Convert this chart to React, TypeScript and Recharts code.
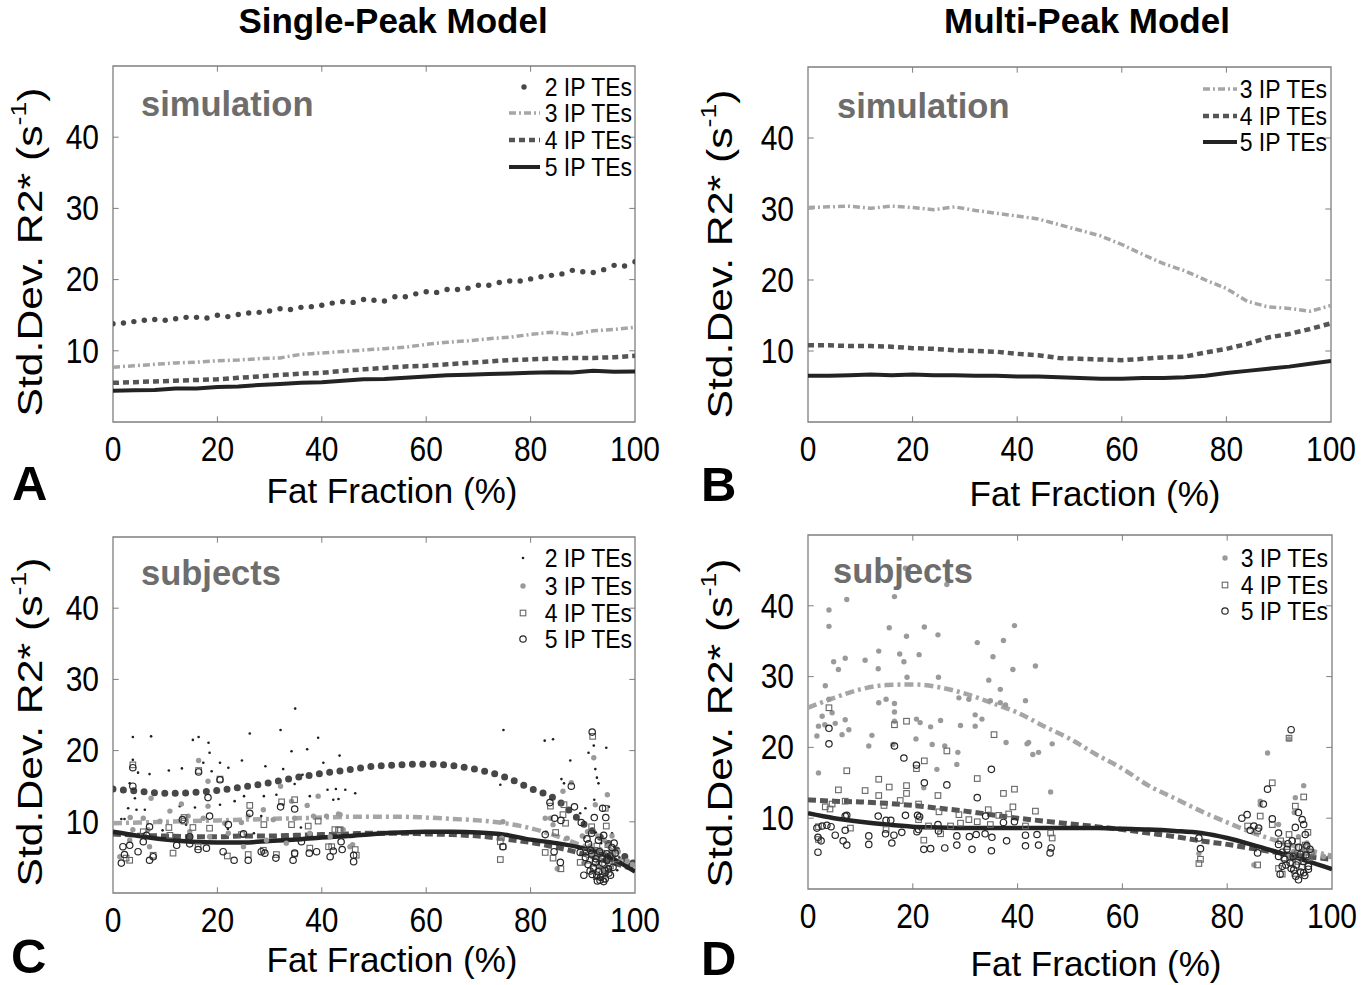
import React from 'react';
import { ComposedChart, Line, Scatter, XAxis, YAxis, ReferenceArea, ReferenceLine } from 'recharts';

const FONT = "'Liberation Sans', Arial, Helvetica, sans-serif";

// ---------- tick labels ----------
const X_TICKS = [0, 20, 40, 60, 80, 100];
const Y_TICKS = [10, 20, 30, 40];
const X_INNER = [20, 40, 60, 80];

// ---------- fat fraction grids ----------
const FF_2 = [0, 2, 4, 6, 8, 10, 12, 14, 16, 18, 20, 22, 24, 26, 28, 30, 32, 34, 36, 38, 40, 42, 44, 46, 48, 50, 52, 54, 56, 58, 60, 62, 64, 66, 68, 70, 72, 74, 76, 78, 80, 82, 84, 86, 88, 90, 92, 94, 96, 98, 100];
const FF_4 = [0, 4, 8, 12, 16, 20, 24, 28, 32, 36, 40, 44, 48, 52, 56, 60, 64, 68, 72, 76, 80, 84, 88, 92, 96, 100];
const FF_5 = [0, 5, 10, 15, 20, 25, 30, 35, 40, 45, 50, 55, 60, 65, 70, 75, 80, 85, 90, 95, 100];

// ---------- A: simulation, single-peak ----------
const SIM_SP_2 = [13.8, 13.9, 14.1, 14.3, 14.4, 14.3, 14.5, 14.7, 14.7, 14.6, 15.0, 14.8, 15.1, 15.3, 15.4, 15.6, 15.9, 15.8, 16.1, 16.2, 16.4, 16.7, 16.9, 16.8, 17.2, 17.1, 17.0, 17.6, 17.6, 18.0, 18.3, 18.2, 18.6, 18.6, 18.8, 19.2, 19.2, 19.6, 19.8, 19.8, 20.1, 20.4, 20.6, 20.8, 21.3, 21.1, 21.0, 21.4, 22.0, 21.9, 22.5];
const SIM_SP_3 = [7.7, 7.9, 8.1, 8.3, 8.4, 8.6, 8.7, 8.9, 9.0, 9.5, 9.7, 9.9, 10.1, 10.3, 10.5, 10.9, 11.2, 11.4, 11.7, 11.9, 12.3, 12.6, 12.3, 12.8, 13.0, 13.3];
const SIM_SP_4 = [5.5, 5.6, 5.7, 5.8, 5.9, 6.0, 6.2, 6.4, 6.6, 6.8, 6.9, 7.2, 7.4, 7.6, 7.8, 7.9, 8.1, 8.3, 8.5, 8.7, 8.8, 8.9, 9.0, 9.0, 9.1, 9.3];
const SIM_SP_5 = [4.4, 4.45, 4.5, 4.7, 4.7, 4.9, 5.0, 5.2, 5.35, 5.5, 5.6, 5.8, 6.0, 6.05, 6.2, 6.4, 6.55, 6.65, 6.75, 6.8, 6.9, 7.0, 6.95, 7.2, 7.05, 7.1];

// ---------- B: simulation, multi-peak ----------
const SIM_MP_3 = [30.2, 30.3, 30.4, 30.1, 30.4, 30.2, 29.9, 30.3, 29.8, 29.4, 29.0, 28.6, 27.8, 27.0, 26.2, 25.0, 23.6, 22.3, 21.3, 20.0, 18.8, 17.0, 16.2, 16.0, 15.6, 16.4];
const SIM_MP_4 = [10.8, 10.8, 10.7, 10.7, 10.6, 10.4, 10.3, 10.1, 10.0, 9.9, 9.6, 9.4, 9.0, 8.9, 8.8, 8.7, 8.9, 9.1, 9.2, 9.8, 10.3, 11.0, 11.9, 12.4, 13.1, 13.9];
const SIM_MP_5 = [6.5, 6.5, 6.6, 6.7, 6.6, 6.7, 6.6, 6.6, 6.5, 6.5, 6.4, 6.4, 6.3, 6.2, 6.1, 6.1, 6.2, 6.2, 6.3, 6.5, 6.9, 7.2, 7.5, 7.8, 8.2, 8.6];

// ---------- C: subjects fits, single-peak ----------
const FIT_SP_2 = [14.6, 14.3, 14.0, 14.1, 14.4, 14.9, 15.5, 16.2, 16.8, 17.3, 17.8, 18.0, 18.1, 17.9, 17.3, 16.3, 14.7, 13.1, 9.8, 6.9, 4.0];
const FIT_SP_3 = [9.8, 9.9, 10.0, 10.1, 10.2, 10.3, 10.4, 10.5, 10.6, 10.7, 10.7, 10.7, 10.6, 10.4, 10.2, 9.8, 9.1, 8.0, 6.6, 5.2, 3.9];
const FIT_SP_4 = [8.3, 8.1, 8.0, 7.9, 7.9, 8.0, 8.0, 8.1, 8.2, 8.3, 8.4, 8.4, 8.3, 8.2, 8.0, 7.6, 7.1, 6.4, 5.5, 4.4, 3.3];
const FIT_SP_5 = [8.6, 8.0, 7.5, 7.2, 7.1, 7.1, 7.3, 7.5, 7.8, 8.0, 8.3, 8.5, 8.6, 8.6, 8.5, 8.2, 7.5, 7.0, 6.3, 5.1, 3.0];

// ---------- D: subjects fits, multi-peak ----------
const FIT_MP_3 = [25.6, 27.0, 28.2, 28.8, 28.9, 28.5, 27.6, 26.3, 24.9, 23.0, 21.2, 19.0, 17.0, 14.6, 12.8, 11.0, 9.4, 7.9, 6.7, 5.6, 4.7];
const FIT_MP_4 = [12.6, 12.4, 12.3, 12.1, 11.8, 11.4, 11.0, 10.5, 10.0, 9.6, 9.2, 8.8, 8.4, 7.9, 7.4, 6.8, 6.3, 5.7, 5.1, 4.6, 4.2];
const FIT_MP_5 = [10.7, 10.0, 9.5, 9.1, 8.8, 8.7, 8.6, 8.6, 8.6, 8.6, 8.6, 8.6, 8.5, 8.4, 8.2, 7.9, 7.2, 6.2, 5.1, 4.0, 2.8];

// ---------- C: subject points, single-peak [FF, SD] ----------
const PTS_SP_2 = [[1.6,10.4],[2.2,10.4],[2.9,11.9],[3.2,15.4],[3.8,18.7],[3.8,21.9],[4.2,13.3],[4.5,11.7],[4.8,16.9],[6.1,11.7],[7.0,16.7],[7.3,22.0],[9.5,8.8],[10.7,17.2],[12.8,12.2],[13.2,17.5],[14.0,9.6],[15.3,21.5],[15.7,12.0],[16.4,21.9],[17.3,18.3],[18.3,21.1],[18.5,19.7],[18.9,17.1],[20.5,18.3],[20.5,12.4],[22.0,9.0],[22.1,17.6],[23.3,12.9],[24.7,18.6],[25.1,13.6],[26.2,22.4],[27.0,8.4],[28.4,10.8],[28.9,13.6],[29.2,17.8],[31.3,13.8],[32.1,22.9],[32.6,17.4],[32.6,12.4],[34.2,19.9],[34.8,15.3],[34.9,25.9],[36.0,9.2],[36.3,16.6],[37.2,20.2],[37.7,13.6],[39.3,21.8],[40.3,18.3],[41.1,14.5],[42.2,13.1],[42.7,14.6],[43.2,13.2],[43.4,19.3],[44.0,8.7],[44.5,14.5],[46.4,14.0],[74.2,15.2],[74.8,22.9],[82.7,21.4],[84.3,21.6],[85.9,16.0],[86.4,15.4],[87.6,18.6],[89.5,11.2],[90.5,11.9],[91.1,19.7],[92.1,20.7],[92.2,13.1],[92.4,17.4],[92.7,16.2],[93.0,15.4],[94.5,20.4],[95.0,12.1],[95.6,8.4],[90.3,7.8],[91.0,6.0],[91.5,3.0],[92.0,5.0],[92.5,8.5],[93.0,4.0],[93.5,7.0],[94.0,3.5],[94.5,5.5],[95.5,4.5],[96.0,6.5],[96.6,3.2],[97.0,5.0],[98.0,4.5],[99.0,4.0]];
const PTS_SP_3 = [[1.3,5.1],[3.2,7.4],[3.3,10.6],[3.8,8.9],[5.8,10.5],[6.7,8.9],[7.0,6.5],[7.3,13.3],[9.0,10.1],[10.9,11.5],[13.1,12.5],[14.4,10.8],[14.7,8.6],[16.4,18.6],[17.3,10.5],[18.2,15.7],[18.2,12.2],[18.5,7.9],[21.4,9.8],[22.1,8.4],[24.6,9.9],[25.0,6.5],[25.9,10.8],[28.8,11.7],[29.4,7.4],[30.7,10.3],[32.1,15.0],[33.2,7.0],[34.2,12.9],[34.8,10.5],[37.2,12.3],[37.7,8.4],[38.4,10.8],[39.3,13.6],[40.9,10.8],[41.6,7.9],[43.2,11.1],[43.5,11.0],[44.1,8.9],[45.4,6.5],[45.9,6.8],[74.5,7.7],[74.7,10.0],[82.8,10.5],[83.8,10.5],[84.3,9.6],[85.1,3.4],[86.2,14.3],[87.0,7.7],[87.8,15.5],[89.9,8.0],[92.1,19.0],[92.4,12.4],[94.7,13.8],[95.6,8.0],[91.4,6.6],[92.7,5.2],[93.3,6.1],[94.9,6.6],[95.9,5.4],[90.2,4.2],[91.7,5.4],[93.3,3.6],[94.1,7.4],[95.4,6.0],[92.9,8.0],[96.8,5.8],[90.9,8.6],[98.5,4.5],[99.5,4.0]];
const PTS_SP_4 = [[2.5,4.9],[3.2,4.6],[3.8,18.0],[5.8,8.6],[7.7,5.3],[10.7,9.2],[10.9,8.1],[11.5,5.6],[13.6,10.6],[13.6,10.1],[15.3,9.2],[16.3,6.5],[16.4,17.2],[18.5,9.1],[20.5,16.0],[21.9,5.2],[24.6,8.2],[25.9,5.4],[26.2,12.3],[28.8,6.0],[28.9,9.6],[31.3,5.4],[32.3,12.8],[34.2,9.6],[34.8,13.1],[34.8,5.5],[37.4,9.4],[37.7,6.3],[39.3,10.1],[41.3,6.5],[41.9,6.5],[42.5,8.9],[43.2,8.8],[43.5,8.9],[46.4,6.1],[46.6,5.3],[74.2,7.2],[74.7,6.5],[74.2,4.7],[82.8,5.7],[83.8,12.2],[84.3,4.9],[84.8,8.5],[85.8,3.4],[86.2,11.0],[86.4,12.4],[86.7,9.8],[89.5,4.3],[91.7,9.3],[91.9,22.0],[94.3,11.9],[94.5,9.4],[92.7,6.6],[94.0,5.2],[92.1,3.4],[93.7,2.7],[95.3,3.8],[91.3,4.6],[92.3,6.0],[93.1,4.0],[93.6,5.6],[94.4,3.0],[95.1,4.1],[92.6,2.3],[94.8,6.8],[90.6,5.8],[93.9,1.9],[96.4,4.8]];
const PTS_SP_5 = [[1.6,4.2],[1.9,6.5],[2.2,5.4],[3.2,6.7],[3.8,17.6],[3.8,15.0],[4.8,5.8],[5.8,7.2],[6.4,8.1],[7.0,9.3],[7.0,4.6],[7.7,5.1],[12.2,6.7],[13.3,10.3],[14.7,6.9],[14.7,7.9],[16.3,6.1],[16.4,17.0],[17.9,6.3],[18.2,13.4],[18.5,10.8],[20.5,15.9],[21.1,5.8],[22.1,9.6],[23.2,4.6],[25.0,8.3],[25.9,4.6],[26.2,11.2],[28.4,5.8],[29.1,5.6],[31.2,4.9],[32.1,12.1],[34.5,4.6],[34.8,5.6],[34.8,11.8],[36.1,7.2],[37.6,5.6],[39.0,5.8],[41.6,5.1],[42.2,5.9],[43.7,7.2],[43.9,6.1],[46.1,5.3],[46.1,4.4],[74.7,6.5],[82.8,8.2],[83.7,12.7],[84.5,5.8],[84.6,10.5],[85.7,4.3],[85.8,10.2],[87.8,15.0],[88.4,12.1],[89.5,5.7],[89.7,9.9],[90.2,2.5],[91.1,6.9],[91.4,3.1],[91.7,5.5],[91.7,8.4],[91.8,22.6],[92.2,10.6],[92.4,4.3],[92.7,2.5],[93.0,7.4],[93.3,1.8],[93.7,4.8],[93.8,11.9],[94.0,8.1],[94.3,2.0],[94.4,10.6],[94.6,5.5],[94.9,3.4],[95.3,2.5],[95.6,6.4],[90.5,5.0],[91.0,4.0],[91.5,6.0],[92.0,3.6],[92.5,4.8],[93.0,3.0],[93.2,5.8],[93.8,4.2],[94.2,3.2],[94.6,4.6],[95.0,2.8],[95.2,5.2],[93.4,2.2],[92.8,1.7],[94.0,1.6],[91.8,2.6],[95.8,3.6],[96.2,5.6],[90.8,7.6],[96.0,7.0]];

// ---------- D: subject points, multi-peak [FF, SD] ----------
const PTS_MP_3 = [[1.7,21.6],[2.0,23.0],[2.0,16.4],[2.7,24.4],[3.2,23.2],[3.3,28.7],[4.0,39.4],[4.0,37.1],[4.0,26.8],[4.6,24.9],[4.9,32.1],[5.2,23.4],[5.8,31.0],[6.5,21.8],[7.1,32.6],[7.1,23.9],[7.4,40.9],[7.8,22.5],[10.9,32.3],[11.6,20.2],[12.2,21.7],[13.4,31.1],[13.5,33.6],[13.5,26.3],[14.9,26.8],[15.5,36.9],[16.2,20.4],[16.5,41.3],[16.5,26.2],[16.5,25.0],[16.5,23.7],[17.5,33.2],[18.3,32.1],[18.6,45.3],[18.8,35.7],[18.9,29.9],[20.6,21.2],[20.7,24.0],[21.2,33.1],[21.4,23.5],[22.1,14.3],[22.2,37.0],[23.4,22.9],[23.7,20.4],[24.6,16.9],[24.8,35.9],[24.9,29.9],[25.3,23.8],[26.1,20.2],[26.5,43.0],[28.4,17.6],[28.6,19.3],[28.8,27.0],[29.1,23.1],[30.7,26.8],[31.9,24.6],[31.9,23.0],[32.3,34.8],[33.2,24.0],[34.5,29.5],[34.8,26.6],[35.3,32.8],[36.7,28.2],[36.7,26.3],[37.3,35.1],[37.7,26.0],[37.8,20.7],[39.1,31.0],[39.4,37.2],[41.5,26.6],[41.8,20.5],[42.1,20.7],[42.9,19.0],[43.4,31.5],[44.0,19.3],[46.3,13.7],[46.6,20.5],[74.6,5.0],[85.1,3.4],[86.3,12.4],[86.3,11.9],[87.7,19.2],[89.8,9.1],[91.8,21.2],[92.8,10.8],[93.0,12.9],[94.6,14.6],[90.8,6.5],[91.7,4.6],[92.7,5.3],[93.6,7.4],[95.0,5.1],[95.2,6.5],[96.5,5.1],[98.4,4.6],[99.7,4.6]];
const PTS_MP_4 = [[2.0,8.8],[2.0,7.0],[3.3,11.6],[4.0,25.6],[4.2,11.3],[4.6,12.0],[5.8,14.0],[7.1,12.4],[7.4,16.7],[8.1,8.6],[10.9,13.9],[13.5,15.5],[13.5,13.2],[14.5,11.8],[14.9,8.4],[15.5,14.4],[16.5,23.2],[17.6,12.5],[18.8,23.7],[18.8,14.6],[18.8,13.5],[20.7,17.0],[21.1,12.0],[21.1,9.8],[22.1,6.9],[22.2,18.1],[23.0,8.9],[24.8,13.2],[25.0,10.9],[25.3,7.8],[26.5,19.5],[27.2,8.9],[28.8,10.5],[29.1,9.3],[30.7,9.8],[32.3,15.6],[32.3,9.5],[34.4,11.2],[34.8,9.1],[35.5,21.8],[36.4,10.4],[37.3,13.5],[38.3,10.6],[39.1,11.6],[39.4,14.1],[41.5,8.9],[43.4,11.0],[46.3,7.9],[46.6,7.2],[74.6,3.6],[74.9,4.2],[83.9,8.9],[85.8,8.2],[85.8,3.4],[86.3,10.3],[88.6,15.0],[88.6,9.1],[89.8,2.9],[90.5,2.1],[91.8,7.7],[91.8,21.3],[93.0,11.7],[93.4,6.7],[93.6,3.9],[94.3,5.9],[94.6,13.0],[95.2,4.8],[92.7,4.8],[90.8,4.4],[91.5,6.0],[92.4,3.6],[93.4,5.0],[94.2,3.1],[95.6,4.4],[92.9,2.2],[94.9,6.2],[95.4,8.0],[90.2,6.8],[96.0,5.2]];
const PTS_MP_5 = [[1.7,8.6],[1.9,7.3],[1.9,5.2],[2.5,6.8],[2.7,8.9],[3.6,9.0],[4.0,22.7],[4.0,20.5],[4.4,8.8],[5.2,7.6],[6.7,6.8],[7.1,10.3],[7.1,8.3],[7.4,10.4],[7.4,6.2],[11.6,7.5],[11.6,6.3],[13.4,10.3],[14.8,7.8],[14.9,9.7],[15.8,9.7],[16.0,6.5],[16.4,7.6],[16.5,20.2],[17.9,8.0],[18.3,18.5],[18.6,10.4],[20.7,17.5],[20.8,8.1],[20.9,10.4],[21.1,8.4],[21.3,10.2],[22.1,5.6],[22.2,15.0],[23.4,5.7],[24.8,9.1],[24.9,8.2],[26.1,5.8],[26.5,14.7],[28.4,7.5],[28.4,6.2],[30.8,7.4],[31.3,5.6],[32.1,7.7],[32.3,12.9],[33.8,7.8],[33.9,10.3],[35.0,16.9],[35.0,5.4],[35.1,7.3],[37.3,9.4],[37.9,6.8],[39.4,9.5],[41.5,7.6],[41.5,6.1],[43.7,7.7],[44.0,6.2],[46.2,5.1],[46.4,5.8],[74.6,7.2],[74.9,5.7],[82.8,10.0],[83.8,10.5],[84.4,8.3],[85.1,8.9],[85.8,5.1],[86.0,8.6],[86.9,12.0],[87.7,14.1],[88.6,9.9],[89.8,7.9],[89.8,6.3],[89.8,4.6],[90.1,2.1],[90.5,3.2],[91.4,5.6],[92.0,3.7],[92.2,22.5],[92.7,2.7],[93.0,8.7],[93.6,10.8],[93.6,1.3],[94.0,4.9],[94.3,9.8],[94.6,9.1],[94.6,2.3],[94.9,7.7],[95.2,6.1],[95.5,3.2],[90.5,5.2],[91.0,4.2],[91.6,6.4],[92.2,2.9],[92.6,4.6],[93.2,3.4],[93.6,5.9],[94.0,2.4],[94.5,3.9],[95.0,4.8],[95.5,2.8],[93.1,1.8],[92.4,6.8],[95.8,5.6],[91.2,3.4],[94.8,1.9]];

// ---------- helpers ----------
const zip = (xs: number[], ys: number[]) => xs.map((x, i) => ({ x, y: ys[i] }));
const pairs = (ps: number[][]) => ps.map(([x, y]) => ({ x, y }));

const FRAME = '#7f7f7f';
const C2 = '#474747';
const C3 = '#a6a6a6';
const C4 = '#555555';
const C5 = '#232323';
const LABEL_GRAY = '#6d6d6d';

const ML = 110, MT = 12, MR = 45, MB = 60;
const TICK_LEN_X = 0.8;  // in y-units (inner tick length)
const TICK_LEN_Y = 1.1;  // in x-units (inner tick length)

const XTick = (p: any) => (
  <text transform={`translate(${p.x},${p.y + 27.5}) scale(1,1.15)`} textAnchor="middle" dominantBaseline="central"
    fontSize={30} fontFamily={FONT} fill="#000">{p.payload.value}</text>
);
const YTick = (p: any) => (
  <text transform={`translate(${p.x - 14},${p.y}) scale(1,1.15)`} textAnchor="end" dominantBaseline="central"
    fontSize={30} fontFamily={FONT} fill="#000">{p.payload.value}</text>
);

const frameParts = () => [
  <XAxis key="xa" dataKey="x" type="number" domain={[0, 100]} ticks={X_TICKS} interval={0} allowDataOverflow
    height={MB} tickSize={0} tickMargin={0} tickLine={false} axisLine={false} tick={XTick} />,
  <YAxis key="ya" dataKey="y" type="number" domain={[0, 50]} ticks={Y_TICKS} interval={0} allowDataOverflow
    width={ML} tickSize={0} tickMargin={0} tickLine={false} axisLine={false} tick={YTick} />,
  ...X_INNER.map((v) => (
    <ReferenceLine key={`xb${v}`} segment={[{ x: v, y: 0 }, { x: v, y: TICK_LEN_X }]} stroke={FRAME} strokeWidth={1} ifOverflow="visible" />
  )),
  ...X_INNER.map((v) => (
    <ReferenceLine key={`xt${v}`} segment={[{ x: v, y: 50 }, { x: v, y: 50 - TICK_LEN_X }]} stroke={FRAME} strokeWidth={1} ifOverflow="visible" />
  )),
  ...Y_TICKS.map((v) => (
    <ReferenceLine key={`yl${v}`} segment={[{ x: 0, y: v }, { x: TICK_LEN_Y, y: v }]} stroke={FRAME} strokeWidth={1} ifOverflow="visible" />
  )),
  ...Y_TICKS.map((v) => (
    <ReferenceLine key={`yr${v}`} segment={[{ x: 100, y: v }, { x: 100 - TICK_LEN_Y, y: v }]} stroke={FRAME} strokeWidth={1} ifOverflow="visible" />
  )),
  <ReferenceArea key="fr" x1={0} x2={100} y1={0} y2={50} fill="none" fillOpacity={0} stroke={FRAME} strokeWidth={1.3}
    ifOverflow="visible" />,
];

// marker shapes
const dotSim = (p: any) => <circle cx={p.cx} cy={p.cy} r={2.7} fill={C2} />;
const mk2 = (p: any) => <circle cx={p.cx} cy={p.cy} r={1.3} fill="#1e1e1e" />;
const mk3 = (p: any) => <circle cx={p.cx} cy={p.cy} r={2.7} fill="#9a9a9a" />;
const mk4 = (p: any) => <rect x={p.cx - 2.8} y={p.cy - 2.8} width={5.6} height={5.6} fill="none" stroke="#666" strokeWidth={1.1} />;
const mk5 = (p: any) => <circle cx={p.cx} cy={p.cy} r={3.2} fill="none" stroke="#262626" strokeWidth={1.2} />;

type Geo = { left: number; top: number; w: number; h: number };
const GEO_A: Geo = { left: 113, top: 66, w: 522, h: 356 };
const GEO_B: Geo = { left: 808, top: 67, w: 523, h: 355 };
const GEO_C: Geo = { left: 113, top: 537, w: 522, h: 356 };
const GEO_D: Geo = { left: 808, top: 535, w: 524, h: 354 };

function Panel({ geo, children }: { geo: Geo; children: React.ReactNode }) {
  return (
    <div style={{ position: 'absolute', left: geo.left - ML, top: geo.top - MT }}>
      <ComposedChart width={ML + geo.w + MR} height={MT + geo.h + MB} margin={{ top: MT, right: MR, bottom: 0, left: 0 }}>
        {children}
      </ComposedChart>
    </div>
  );
}

// ---------- overlay text helpers ----------
const T = ({ x, y, size, children, weight = 'normal', fill = '#000', anchor = 'start', sx = 1, sy = 1, rot = 0, base = 'alphabetic' }: any) => (
  <text transform={`translate(${x},${y}) rotate(${rot}) scale(${sx},${sy})`} fontSize={size} fontWeight={weight} fill={fill}
    textAnchor={anchor} dominantBaseline={base} fontFamily={FONT}>{children}</text>
);

const YLabel = ({ x, y }: { x: number; y: number }) => (
  <text transform={`translate(${x},${y}) rotate(-90) scale(1.22,1)`} fontSize={35} fill="#000" textAnchor="middle"
    dominantBaseline="central" fontFamily={FONT}>
    Std.Dev. R2* (s<tspan dy={-12} fontSize={22}>-1</tspan><tspan dy={12}>)</tspan>
  </text>
);

const LegLine = ({ x1, x2, y, kind }: any) => {
  if (kind === 3) return <line x1={x1} x2={x2} y1={y} y2={y} stroke={C3} strokeWidth={3.5} strokeDasharray="7 3 2 3" />;
  if (kind === 4) return <line x1={x1} x2={x2} y1={y} y2={y} stroke={C4} strokeWidth={4.5} strokeDasharray="6 4" />;
  return <line x1={x1} x2={x2} y1={y} y2={y} stroke={C5} strokeWidth={4} />;
};

const LegText = ({ x, y, children }: any) => (
  <T x={x} y={y} size={23} anchor="end" base="central" sy={1.15}>{children}</T>
);

export default function App() {
  return (
    <div style={{ position: 'absolute', left: 0, top: 0, width: 1370, height: 985, background: '#fff', overflow: 'hidden' }}>
      {/* A */}
      <Panel geo={GEO_A}>
        {frameParts()}
        <Line data={zip(FF_4, SIM_SP_3)} dataKey="y" type="linear" stroke={C3} strokeWidth={3.5} strokeDasharray="7 3 2 3" dot={false} isAnimationActive={false} />
        <Line data={zip(FF_4, SIM_SP_4)} dataKey="y" type="linear" stroke={C4} strokeWidth={4.5} strokeDasharray="6 4" dot={false} isAnimationActive={false} />
        <Line data={zip(FF_4, SIM_SP_5)} dataKey="y" type="linear" stroke={C5} strokeWidth={4} dot={false} isAnimationActive={false} />
        <Scatter data={zip(FF_2, SIM_SP_2)} dataKey="y" shape={dotSim} isAnimationActive={false} />
      </Panel>
      {/* B */}
      <Panel geo={GEO_B}>
        {frameParts()}
        <Line data={zip(FF_4, SIM_MP_3)} dataKey="y" type="linear" stroke={C3} strokeWidth={3.5} strokeDasharray="7 3 2 3" dot={false} isAnimationActive={false} />
        <Line data={zip(FF_4, SIM_MP_4)} dataKey="y" type="linear" stroke={C4} strokeWidth={4.5} strokeDasharray="6 4" dot={false} isAnimationActive={false} />
        <Line data={zip(FF_4, SIM_MP_5)} dataKey="y" type="linear" stroke={C5} strokeWidth={4} dot={false} isAnimationActive={false} />
      </Panel>
      {/* C */}
      <Panel geo={GEO_C}>
        {frameParts()}
        <Scatter data={pairs(PTS_SP_2)} dataKey="y" shape={mk2} isAnimationActive={false} />
        <Scatter data={pairs(PTS_SP_3)} dataKey="y" shape={mk3} isAnimationActive={false} />
        <Scatter data={pairs(PTS_SP_4)} dataKey="y" shape={mk4} isAnimationActive={false} />
        <Scatter data={pairs(PTS_SP_5)} dataKey="y" shape={mk5} isAnimationActive={false} />
        <Line data={zip(FF_5, FIT_SP_3)} dataKey="y" type="monotone" stroke={C3} strokeWidth={4.5} strokeDasharray="9 4 3 4" dot={false} isAnimationActive={false} />
        <Line data={zip(FF_5, FIT_SP_4)} dataKey="y" type="monotone" stroke={C4} strokeWidth={5} strokeDasharray="8 4" dot={false} isAnimationActive={false} />
        <Line data={zip(FF_5, FIT_SP_5)} dataKey="y" type="monotone" stroke={C5} strokeWidth={4.5} dot={false} isAnimationActive={false} />
        <Line data={zip(FF_5, FIT_SP_2)} dataKey="y" type="monotone" stroke={C2} strokeWidth={7} strokeDasharray="0 10.4" strokeLinecap="round" dot={false} isAnimationActive={false} />
      </Panel>
      {/* D */}
      <Panel geo={GEO_D}>
        {frameParts()}
        <Scatter data={pairs(PTS_MP_3)} dataKey="y" shape={mk3} isAnimationActive={false} />
        <Scatter data={pairs(PTS_MP_4)} dataKey="y" shape={mk4} isAnimationActive={false} />
        <Scatter data={pairs(PTS_MP_5)} dataKey="y" shape={mk5} isAnimationActive={false} />
        <Line data={zip(FF_5, FIT_MP_3)} dataKey="y" type="monotone" stroke={C3} strokeWidth={4.5} strokeDasharray="9 4 3 4" dot={false} isAnimationActive={false} />
        <Line data={zip(FF_5, FIT_MP_4)} dataKey="y" type="monotone" stroke={C4} strokeWidth={5} strokeDasharray="8 4" dot={false} isAnimationActive={false} />
        <Line data={zip(FF_5, FIT_MP_5)} dataKey="y" type="monotone" stroke={C5} strokeWidth={4.5} dot={false} isAnimationActive={false} />
      </Panel>

      {/* overlay texts */}
      <svg width={1370} height={985} style={{ position: 'absolute', left: 0, top: 0, pointerEvents: 'none' }}>
        <T x={393} y={33} size={35} weight="bold" anchor="middle">Single-Peak Model</T>
        <T x={1087} y={33} size={35} weight="bold" anchor="middle">Multi-Peak Model</T>

        <T x={12} y={500} size={49} weight="bold">A</T>
        <T x={701} y={501} size={49} weight="bold">B</T>
        <T x={11} y={973} size={49} weight="bold">C</T>
        <T x={701} y={975} size={49} weight="bold">D</T>

        <YLabel x={30} y={252} />
        <YLabel x={720} y={254} />
        <YLabel x={30} y={722} />
        <YLabel x={720} y={723} />

        <T x={392} y={503} size={35} anchor="middle">Fat Fraction (%)</T>
        <T x={1095} y={506} size={35} anchor="middle">Fat Fraction (%)</T>
        <T x={392} y={972} size={35} anchor="middle">Fat Fraction (%)</T>
        <T x={1096} y={976} size={35} anchor="middle">Fat Fraction (%)</T>

        <T x={141} y={116} size={34.5} weight="bold" fill={LABEL_GRAY}>simulation</T>
        <T x={837} y={118} size={34.5} weight="bold" fill={LABEL_GRAY}>simulation</T>
        <T x={141} y={585} size={34.5} weight="bold" fill={LABEL_GRAY}>subjects</T>
        <T x={833} y={583} size={34.5} weight="bold" fill={LABEL_GRAY}>subjects</T>

        {/* legend A */}
        <circle cx={524} cy={87} r={2.7} fill={C2} />
        <LegLine x1={509} x2={540} y={113} kind={3} />
        <LegLine x1={509} x2={540} y={140} kind={4} />
        <LegLine x1={509} x2={540} y={167} kind={5} />
        <LegText x={632} y={87}>2 IP TEs</LegText>
        <LegText x={632} y={113}>3 IP TEs</LegText>
        <LegText x={632} y={140}>4 IP TEs</LegText>
        <LegText x={632} y={167}>5 IP TEs</LegText>

        {/* legend B */}
        <LegLine x1={1203} x2={1237} y={89} kind={3} />
        <LegLine x1={1203} x2={1237} y={116} kind={4} />
        <LegLine x1={1203} x2={1237} y={142} kind={5} />
        <LegText x={1327} y={89}>3 IP TEs</LegText>
        <LegText x={1327} y={116}>4 IP TEs</LegText>
        <LegText x={1327} y={142}>5 IP TEs</LegText>

        {/* legend C */}
        <circle cx={523} cy={558} r={1.3} fill="#1e1e1e" />
        <circle cx={523} cy={586} r={2.7} fill="#9a9a9a" />
        <rect x={520.2} y={610.2} width={5.6} height={5.6} fill="none" stroke="#666" strokeWidth={1.1} />
        <circle cx={523} cy={639} r={3.2} fill="none" stroke="#262626" strokeWidth={1.2} />
        <LegText x={632} y={558}>2 IP TEs</LegText>
        <LegText x={632} y={586}>3 IP TEs</LegText>
        <LegText x={632} y={613}>4 IP TEs</LegText>
        <LegText x={632} y={639}>5 IP TEs</LegText>

        {/* legend D */}
        <circle cx={1225} cy={558} r={2.7} fill="#9a9a9a" />
        <rect x={1222.2} y={582.2} width={5.6} height={5.6} fill="none" stroke="#666" strokeWidth={1.1} />
        <circle cx={1225} cy={611} r={3.2} fill="none" stroke="#262626" strokeWidth={1.2} />
        <LegText x={1328} y={558}>3 IP TEs</LegText>
        <LegText x={1328} y={585}>4 IP TEs</LegText>
        <LegText x={1328} y={611}>5 IP TEs</LegText>
      </svg>
    </div>
  );
}
